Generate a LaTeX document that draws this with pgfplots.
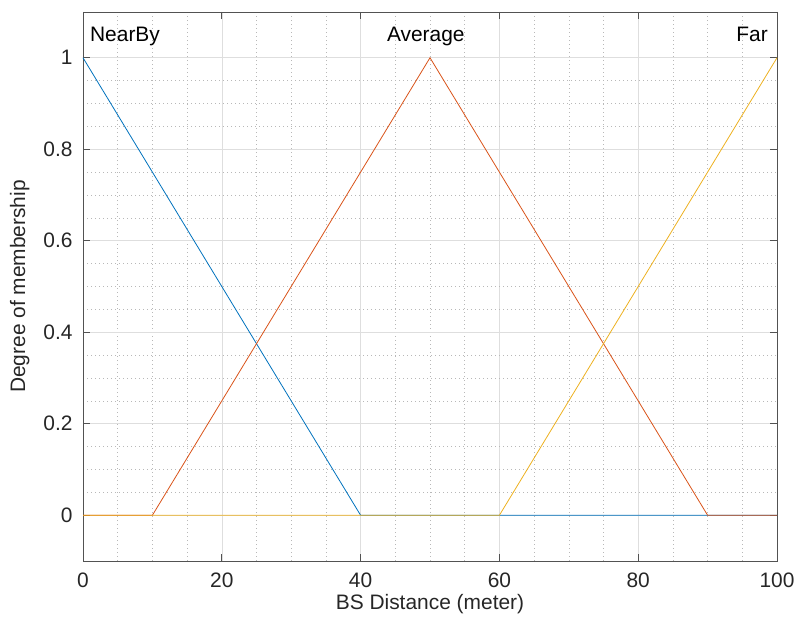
\documentclass[border=0pt]{standalone}
\usepackage{pgfplots}
\pgfplotsset{compat=1.18}
\usepackage{fontspec}
\setmainfont{Liberation Sans}
\definecolor{mblue}{rgb}{0,0.447,0.741}
\definecolor{morange}{rgb}{0.85,0.325,0.098}
\definecolor{myellow}{rgb}{0.929,0.694,0.125}
\definecolor{axgray}{rgb}{0.15,0.15,0.15}
\begin{document}
\begin{tikzpicture}
\useasboundingbox (0,0) rectangle (796bp,628bp);
\begin{axis}[
  at={(83bp,67bp)}, anchor=south west,
  scale only axis, width=694bp, height=549bp,
  xmin=0, xmax=100, ymin=-0.1, ymax=1.1,
  xtick={0,20,...,100}, ytick={0,0.2,0.4,0.6,0.8,1},
  yticklabels={0,0.2,0.4,0.6,0.8,1},
  minor x tick num=3, minor y tick num=3,
  grid=both,
  major grid style={draw=black!13, line width=0.6bp},
  minor grid style={draw=black!28, dash pattern=on 1bp off 3bp, line width=0.6bp},
  axis line style={draw=axgray!80, line width=0.7bp},
  tick style={draw=axgray!80, line width=0.7bp},
  major tick length=7bp, minor tick length=0pt,
  tick align=inside,
  /pgf/number format/assume math mode=true,
  ticklabel style={font=\fontsize{21}{24}\selectfont, text=axgray},
  label style={font=\fontsize{21}{24}\selectfont, text=axgray},
  xlabel={BS Distance (meter)},
  ylabel={Degree of membership},
  ylabel style={yshift=7bp},
  yticklabel style={xshift=-7bp},
  xticklabel style={yshift=-8bp},
  clip=false,
]
\addplot[mblue, line width=0.8bp] coordinates {(0,1) (40,0) (100,0)};
\addplot[morange, line width=0.8bp] coordinates {(0,0) (10,0) (50,1) (90,0) (100,0)};
\addplot[myellow, line width=0.8bp] coordinates {(0,0) (60,0) (100,1)};
\node[anchor=base west, font=\fontsize{21}{24}\selectfont, text=black, inner sep=0pt] at (axis cs:1,1.035) {NearBy};
\node[anchor=base, font=\fontsize{21}{24}\selectfont, text=black, inner sep=0pt] at (axis cs:49.4,1.035) {Average};
\node[anchor=base east, font=\fontsize{21}{24}\selectfont, text=black, inner sep=0pt] at (axis cs:98.7,1.035) {Far};
\end{axis}
\end{tikzpicture}
\end{document}
